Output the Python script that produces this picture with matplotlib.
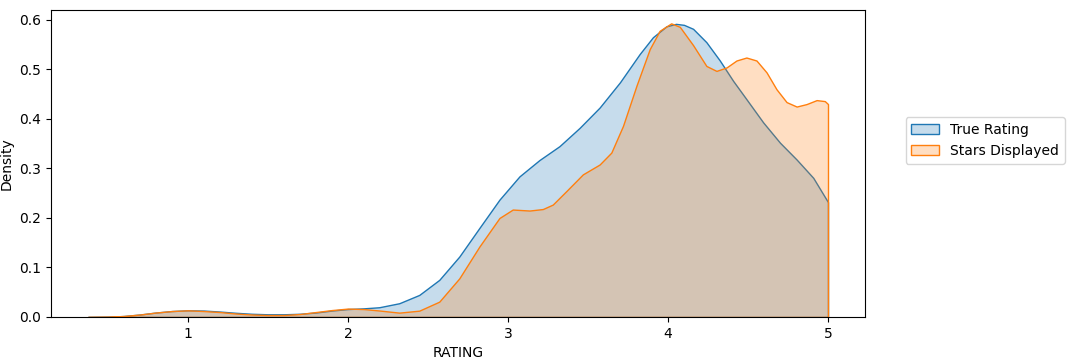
import numpy as np
import matplotlib.pyplot as plt
from matplotlib.colors import to_rgba

# density curves (x = rating, y = density)
true_x = [0.376, 0.5, 0.6, 0.7, 0.8, 0.9, 1.0, 1.1, 1.2, 1.3, 1.4, 1.5, 1.6,
          1.7, 1.8, 1.9, 2.0, 2.1, 2.196, 2.321, 2.446, 2.571, 2.696, 2.822,
          2.947, 3.072, 3.197, 3.322, 3.448, 3.573, 3.70, 3.823, 3.906, 3.99,
          4.05, 4.10, 4.157, 4.24, 4.324, 4.407, 4.49, 4.595, 4.70, 4.804,
          4.908, 5.0]
true_y = [0.0, 0.0005, 0.002, 0.005, 0.009, 0.012, 0.0135, 0.013, 0.011, 0.0085,
          0.0065, 0.0055, 0.0055, 0.0065, 0.009, 0.013, 0.016, 0.0175, 0.0197,
          0.0278, 0.0446, 0.075, 0.122, 0.180, 0.237, 0.284, 0.317, 0.345,
          0.382, 0.423, 0.474, 0.531, 0.565, 0.587, 0.592, 0.590, 0.582, 0.555,
          0.518, 0.477, 0.440, 0.393, 0.352, 0.318, 0.281, 0.232]

stars_x = [0.376, 0.5, 0.6, 0.7, 0.8, 0.9, 1.0, 1.1, 1.2, 1.3, 1.4, 1.5, 1.6,
           1.7, 1.8, 1.9, 2.0, 2.1, 2.2, 2.321, 2.446, 2.571, 2.696, 2.822,
           2.947, 3.03, 3.135, 3.218, 3.28, 3.364, 3.468, 3.573, 3.646, 3.719,
           3.803, 3.886, 3.948, 4.02, 4.074, 4.157, 4.24, 4.303, 4.366, 4.428,
           4.49, 4.553, 4.616, 4.678, 4.741, 4.804, 4.866, 4.929, 4.98, 5.0]
stars_y = [0.0, 0.0005, 0.002, 0.005, 0.009, 0.012, 0.0135, 0.012, 0.010, 0.007,
           0.005, 0.004, 0.004, 0.006, 0.010, 0.014, 0.017, 0.016, 0.013, 0.0088,
           0.0128, 0.031, 0.078, 0.1425, 0.200, 0.217, 0.215, 0.218, 0.227,
           0.254, 0.288, 0.308, 0.332, 0.386, 0.467, 0.541, 0.578, 0.593, 0.586,
           0.549, 0.507, 0.497, 0.504, 0.518, 0.524, 0.518, 0.494, 0.460, 0.434,
           0.425, 0.430, 0.438, 0.436, 0.43]

labels = ['True Rating', 'Stars Displayed']
colors = ['#1f77b4', '#ff7f0e']

fig = plt.figure(figsize=(10.74, 3.6), dpi=100)
ax = fig.add_axes([51/1074, 43/360, 814/1074, 307/360])

for xs, ys, lab, c in zip([true_x, stars_x], [true_y, stars_y], labels, colors):
    ax.fill_between(xs, ys, facecolor=to_rgba(c, 0.25), edgecolor=c,
                    linewidth=1, label=lab)

ax.set_ylim(0, 0.62)
ax.set_xlabel('RATING')
ax.set_ylabel('Density')
ax.legend(loc=(1.05, 0.5))

fig.savefig('out.png', dpi=100)
